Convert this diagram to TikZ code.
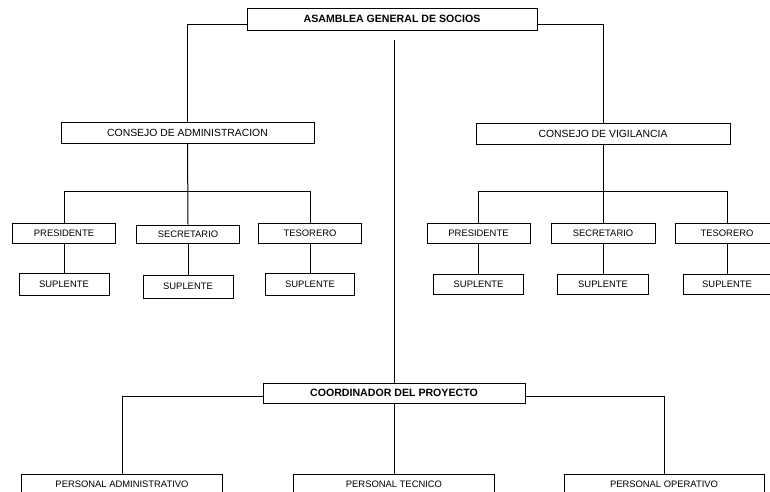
\documentclass[tikz,border=0pt]{standalone}
\usepackage{fontspec}
\setmainfont{Liberation Sans}
\begin{document}
\begin{tikzpicture}[x=1pt,y=-1pt,line width=1pt,
  box/.style={draw,fill=white,inner sep=0pt,align=center},
  big/.style={box,font=\fontsize{10.6}{12}\selectfont\bfseries},
  mid/.style={box,font=\fontsize{10.4}{12}\selectfont},
  small/.style={box,font=\fontsize{9.4}{11}\selectfont}]
\clip (0,0) rectangle (770,491);
% top
\node[big,minimum width=290pt,minimum height=22pt] (asam) at (392,19) {ASAMBLEA GENERAL DE SOCIOS};
\node[mid,minimum width=253pt,minimum height=21pt] (ca) at (187.5,132.5) {CONSEJO DE ADMINISTRACION};
\node[mid,minimum width=254pt,minimum height=21pt] (cv) at (603,133.5) {CONSEJO DE VIGILANCIA};
% left group
\node[small,minimum width=103pt,minimum height=20pt] (p1) at (64,233) {PRESIDENTE};
\node[small,minimum width=103pt,minimum height=18pt] (s1) at (188,234) {SECRETARIO};
\node[small,minimum width=103pt,minimum height=20pt] (t1) at (310,233) {TESORERO};
\node[small,minimum width=90pt,minimum height=22pt] (u1) at (64,284) {SUPLENTE};
\node[small,minimum width=90pt,minimum height=23pt] (u2) at (188,286.5) {SUPLENTE};
\node[small,minimum width=89pt,minimum height=22pt] (u3) at (310,284) {SUPLENTE};
% right group
\node[small,minimum width=103pt,minimum height=20pt] (p2) at (478.5,233) {PRESIDENTE};
\node[small,minimum width=104pt,minimum height=20pt] (s2) at (603,233) {SECRETARIO};
\node[small,minimum width=104pt,minimum height=20pt] (t2) at (727,233) {TESORERO};
\node[small,minimum width=90pt,minimum height=20pt] (v1) at (478.5,284) {SUPLENTE};
\node[small,minimum width=91pt,minimum height=20pt] (v2) at (603,284) {SUPLENTE};
\node[small,minimum width=88pt,minimum height=20pt] (v3) at (727,284) {SUPLENTE};
% bottom
\node[big,minimum width=262pt,minimum height=20pt] (co) at (394,393) {COORDINADOR DEL PROYECTO};
\node[small,minimum width=201pt,minimum height=34pt] (pa) at (122,491) {};
\node[small,minimum width=201pt,minimum height=34pt] (pt) at (394,491) {};
\node[small,minimum width=200pt,minimum height=34pt] (po) at (664,491) {};
\node[font=\fontsize{9.4}{11}\selectfont,inner sep=0pt] (pat) at (122,484.5) {PERSONAL ADMINISTRATIVO};
\node[font=\fontsize{9.4}{11}\selectfont,inner sep=0pt] (ptt) at (394,484.5) {PERSONAL TECNICO};
\node[font=\fontsize{9.4}{11}\selectfont,inner sep=0pt] (pot) at (664,484.5) {PERSONAL OPERATIVO};
% connectors
\coordinate (cstart) at (394,40);
\coordinate (busL) at (188,191.5);
\coordinate (busR) at (603,191.5);
\draw ([yshift=-5pt]asam.west) -| (ca.north);
\draw ([yshift=-5pt]asam.east) -| (cv.north);
\draw (cstart) -- (co.north);
\draw (ca.south) -- (s1.north);
\draw (p1.north) |- (busL);
\draw (busL) -| (t1.north);
\draw (cv.south) -- (s2.north);
\draw (p2.north) |- (busR);
\draw (busR) -| (t2.north);
\draw (p1.south) -- (u1.north);
\draw (s1.south) -- (u2.north);
\draw (t1.south) -- (u3.north);
\draw (p2.south) -- (v1.north);
\draw (s2.south) -- (v2.north);
\draw (t2.south) -- (v3.north);
\draw ([yshift=-3pt]co.west) -| (pa.north);
\draw ([yshift=-3pt]co.east) -| (po.north);
\draw (co.south) -- (pt.north);
\end{tikzpicture}
\end{document}
